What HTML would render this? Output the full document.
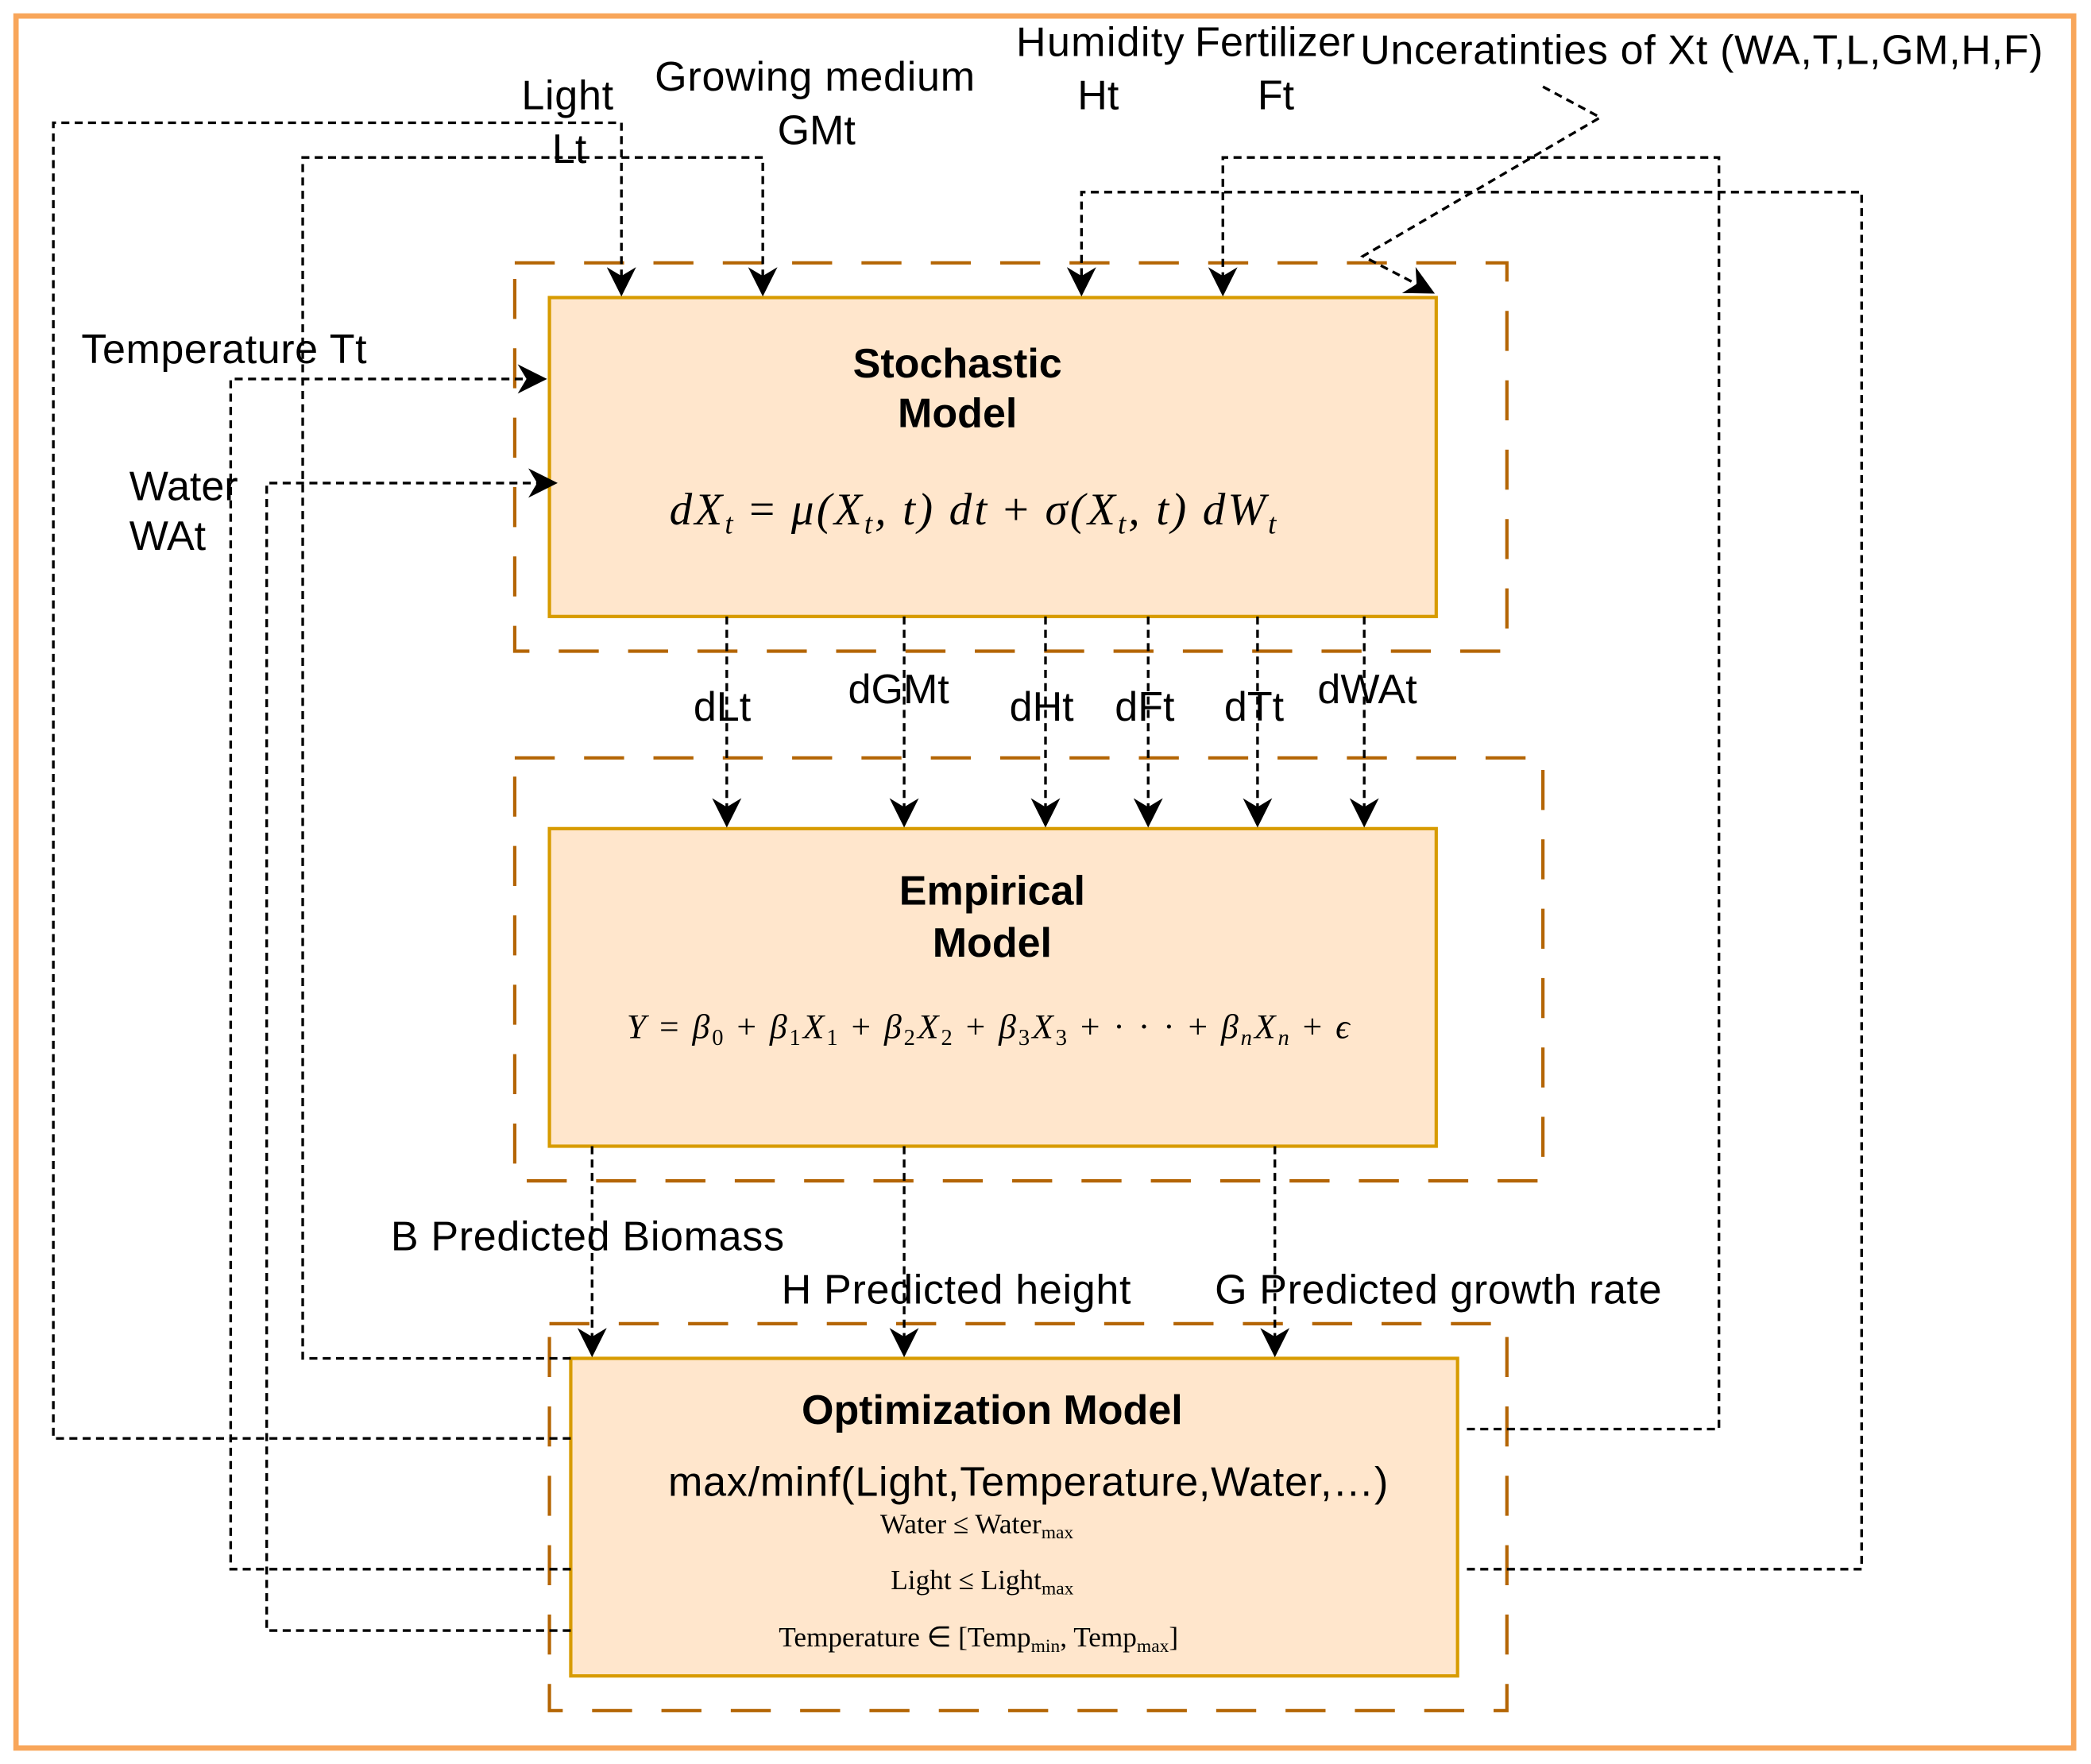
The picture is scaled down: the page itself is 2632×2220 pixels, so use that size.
<!DOCTYPE html>
<html><head><meta charset="utf-8"><style>html,body{margin:0;padding:0;background:#fff}svg{display:block}</style></head><body>
<svg width="2632" height="2220" viewBox="0 0 1568 1322" preserveAspectRatio="none" xmlns="http://www.w3.org/2000/svg">
<defs>
<marker id="b" viewBox="0 0 10 10" refX="9" refY="5" markerWidth="22" markerHeight="22" orient="auto" markerUnits="userSpaceOnUse"><path d="M0,0 L10,5 L0,10 L3,5 z" fill="#000"/></marker></defs>
<rect x="12" y="12" width="1543" height="1298" fill="#fff" stroke="#F8A65A" stroke-width="4"/>
<g fill="none" stroke="#B46504" stroke-width="2.5" stroke-dasharray="30 22">
<rect x="386" y="197" width="744" height="291"/>
<rect x="386" y="568" width="771" height="317"/>
<rect x="412" y="992" width="718" height="290"/>
</g>
<g fill="#FFE6CC" stroke="#D79B00" stroke-width="2.5">
<rect x="412" y="223" width="665" height="239"/>
<rect x="412" y="621" width="665" height="238"/>
<rect x="428" y="1018" width="665" height="238"/>
</g>
<g fill="none" stroke="#000" stroke-width="2" stroke-dasharray="6 4">
<path d="M428,1078 H40 V92 H466 V220" marker-end="url(#b)"/>
<path d="M428,1018 H227 V118 H572 V220" marker-end="url(#b)"/>
<path d="M428,1176 H173 V284 H408" marker-end="url(#b)"/>
<path d="M428,1222 H200 V362 H416" marker-end="url(#b)"/>
<path d="M1100,1176 H1396 V144 H811 V220" marker-end="url(#b)"/>
<path d="M1100,1071 H1289 V118 H917 V220" marker-end="url(#b)"/>
<path d="M1157,65 L1200,88 L1022,192 L1074,219" marker-end="url(#b)"/>
<path d="M545,462 V618" marker-end="url(#b)"/>
<path d="M678,462 V618" marker-end="url(#b)"/>
<path d="M784,462 V618" marker-end="url(#b)"/>
<path d="M861,462 V618" marker-end="url(#b)"/>
<path d="M943,462 V618" marker-end="url(#b)"/>
<path d="M1023,462 V618" marker-end="url(#b)"/>
<path d="M444,859 V1015" marker-end="url(#b)"/>
<path d="M678,859 V1015" marker-end="url(#b)"/>
<path d="M956,859 V1015" marker-end="url(#b)"/>
</g>
<g font-family="Liberation Sans, sans-serif" font-size="31" fill="#000">
<text x="391" y="82" textLength="69">Light</text>
<text x="414" y="122">Lt</text>
<text x="491" y="68" textLength="240">Growing medium</text>
<text x="583" y="108">GMt</text>
<text x="762" y="42" textLength="126">Humidity</text>
<text x="808" y="82">Ht</text>
<text x="896" y="42" textLength="120">Fertilizer</text>
<text x="943" y="82">Ft</text>
<text x="1020" y="48" textLength="512">Unceratinties of Xt (WA,T,L,GM,H,F)</text>
<text x="61" y="272" textLength="214">Temperature Tt</text>
<text x="97" y="375">Water</text>
<text x="97" y="412">WAt</text>
<text x="520" y="540">dLt</text>
<text x="636" y="527">dGMt</text>
<text x="757" y="540">dHt</text>
<text x="836" y="540">dFt</text>
<text x="918" y="540">dTt</text>
<text x="988" y="527">dWAt</text>
<text x="293" y="937" textLength="295">B Predicted Biomass</text>
<text x="586" y="977" textLength="262">H Predicted height</text>
<text x="911" y="977" textLength="335">G Predicted growth rate</text>
<text x="501" y="1121" textLength="540">max/minf(Light,Temperature,Water,…)</text>
</g>
<g font-family="Liberation Sans, sans-serif" font-size="31" font-weight="bold" text-anchor="middle">
<text x="718" y="283">Stochastic</text>
<text x="718" y="320">Model</text>
<text x="744" y="678">Empirical</text>
<text x="744" y="717">Model</text>
<text x="744" y="1067">Optimization Model</text>
</g>
<g font-family="Liberation Serif, serif" fill="#000">
<text x="502" y="393" font-size="34" font-style="italic" textLength="455">dX<tspan font-size="22" dy="7">t</tspan><tspan dy="-7" font-style="normal"> = </tspan>μ(X<tspan font-size="22" dy="7">t</tspan><tspan dy="-7">, t) dt </tspan><tspan font-style="normal">+ </tspan>σ(X<tspan font-size="22" dy="7">t</tspan><tspan dy="-7">, t) dW</tspan><tspan font-size="22" dy="7">t</tspan></text>
<text x="470" y="778" font-size="26" font-style="italic" textLength="542">Y <tspan font-style="normal">=</tspan> β<tspan font-size="17" dy="5" font-style="normal">0</tspan><tspan dy="-5" font-style="normal"> + </tspan>β<tspan font-size="17" dy="5" font-style="normal">1</tspan><tspan dy="-5">X</tspan><tspan font-size="17" dy="5" font-style="normal">1</tspan><tspan dy="-5" font-style="normal"> + </tspan>β<tspan font-size="17" dy="5" font-style="normal">2</tspan><tspan dy="-5">X</tspan><tspan font-size="17" dy="5" font-style="normal">2</tspan><tspan dy="-5" font-style="normal"> + </tspan>β<tspan font-size="17" dy="5" font-style="normal">3</tspan><tspan dy="-5">X</tspan><tspan font-size="17" dy="5" font-style="normal">3</tspan><tspan dy="-5" font-style="normal"> + · · · + </tspan>β<tspan font-size="17" dy="5">n</tspan><tspan dy="-5">X</tspan><tspan font-size="17" dy="5">n</tspan><tspan dy="-5" font-style="normal"> + </tspan>ϵ</text>
<text x="660" y="1149" font-size="21">Water ≤ Water<tspan font-size="14" dy="4">max</tspan></text>
<text x="668" y="1191" font-size="21">Light ≤ Light<tspan font-size="14" dy="4">max</tspan></text>
<text x="584" y="1234" font-size="21">Temperature ∈ [Temp<tspan font-size="14" dy="4">min</tspan><tspan dy="-4">, Temp</tspan><tspan font-size="14" dy="4">max</tspan><tspan dy="-4">]</tspan></text>
</g>
</svg>
</body></html>
